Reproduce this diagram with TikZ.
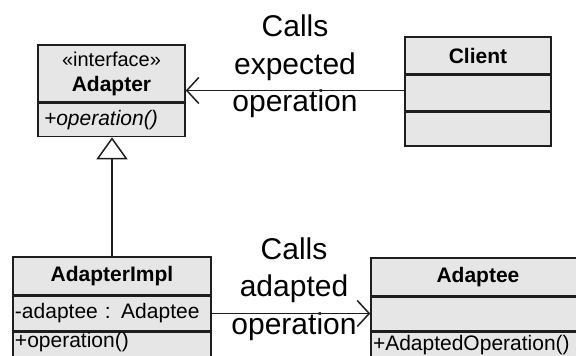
\documentclass[tikz,border=0pt]{standalone}
\usepackage{fontspec}
\setmainfont{Liberation Sans}
\usetikzlibrary{arrows.meta,positioning}
\definecolor{classfill}{HTML}{E6E6E6}
\definecolor{classline}{HTML}{1E1E1E}

\begin{document}
\begin{tikzpicture}[x=1pt,y=-1pt,
  box/.style={draw=classline,fill=classfill,line width=1.5pt,inner sep=0pt,font=\fontsize{21}{25}\selectfont},
  head/.style={box,align=center,font=\fontsize{21}{25}\selectfont\bfseries},
  member/.style={box,align=left,inner xsep=2pt,text width=#1},
  callout/.style={font=\fontsize{30}{37.5}\selectfont,align=center,inner sep=0pt},
  assoc/.style={-{Straight Barb[length=12pt,width=26pt]},line width=1.5pt,draw=classline},
  realize/.style={-{Triangle[open,length=22pt,width=31pt]},line width=1.5pt,draw=classline}]
  \path[use as bounding box,fill=white] (0,0) rectangle (576,356);
  \clip (0,0) rectangle (576,356);

  % interface
  \node[head,minimum width=147pt,minimum height=57pt] (adapterHead) at (111.5,73.5) {{\mdseries\fontsize{20}{23}\selectfont «interface»}\\Adapter};
  \node[member=143pt,minimum height=33pt,below=0pt of adapterHead] (adapterOps) {\itshape\hspace{4pt}+operation()};

  % client
  \node[head,minimum width=146pt,minimum height=37pt] (clientHead) at (478,55.5) {Client};
  \node[member=142pt,minimum height=35pt,below=0pt of clientHead] (clientAttr) {};
  \node[member=142pt,minimum height=34pt,below=0pt of clientAttr] (clientOps) {};

  % implementation
  \node[head,minimum width=198pt,minimum height=38pt] (implHead) at (112,276) {AdapterImpl};
  \node[member=194pt,minimum height=34pt,below=0pt of implHead] (implAttr) {-adaptee : Adaptee};
  \node[member=194pt,minimum height=33pt,below=0pt of implAttr] (implOps) {\raisebox{6pt}[\height][\depth]{+operation()}};

  % adaptee
  \node[head,minimum width=214pt,minimum height=38pt] (adapteeHead) at (478,277) {Adaptee};
  \node[member=210pt,minimum height=33pt,below=0pt of adapteeHead] (adapteeAttr) {};
  \node[member=210pt,minimum height=33pt,below=0pt of adapteeAttr] (adapteeOps) {\raisebox{3pt}[\height][\depth]{+AdaptedOperation()}};

  \node[callout] (expectedCall) at (295,66.5) {Calls\\expected\\operation};
  \node[callout] (adaptedCall) at (294,289) {Calls\\adapted\\operation};

  \coordinate (callStart) at ([yshift=2.5pt]clientAttr.west);
  \draw[assoc] (callStart) -- (callStart -| adapterHead.east);
  \draw[assoc] (implAttr.east) -- (implAttr.east -| adapteeAttr.west);
  \draw[realize] (implHead.north) -- (implHead.north |- adapterOps.south);
\end{tikzpicture}
\end{document}
